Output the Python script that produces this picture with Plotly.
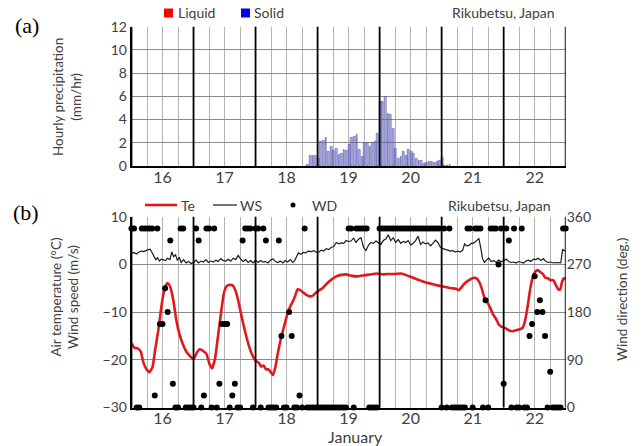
import plotly.graph_objects as go

W, H = 642, 446
FONT = "Lato"
TXT = "#404040"

# ---------------- data ----------------
day_labels = [16, 17, 18, 19, 20, 21, 22]
day_bounds = [15.5, 16.5, 17.5, 18.5, 19.5, 20.5, 21.5, 22.5]

# hourly solid precipitation (mm/hr), first value at hour 68 after 12:00 Jan 15
precip_hour0 = 68
precip_solid = [0.15, 0.85, 0.9, 0.85, 0.6, 2.1, 2.2, 2.4, 1.2, 1.7, 1.3, 1.5, 1.0, 1.1,
                1.4, 1.3, 1.8, 2.4, 2.5, 2.7, 1.4, 0.8, 2.0, 2.0, 1.7, 2.0, 2.1, 2.8,
                5.5, 5.5, 6.0, 4.5, 4.4, 3.2, 1.5, 0.6, 0.8, 1.2, 0.9, 1.4, 1.2, 1.1,
                0.6, 0.5, 0.5, 0.2, 0.3, 0.4, 0.35, 0.3, 0.4, 0.5, 0.7, 0.0, 0.0, 0.1]
precip_liquid = [0.0] * len(precip_solid)

# air temperature (deg C)
te_t = [15.50, 15.55, 15.60, 15.65, 15.69, 15.74, 15.79, 15.84, 15.88, 15.93, 15.97, 16.01,
        16.05, 16.08, 16.11, 16.14, 16.18, 16.22, 16.27, 16.33, 16.38, 16.44, 16.50, 16.55,
        16.60, 16.66, 16.71, 16.76, 16.80, 16.85, 16.90, 16.95, 16.99, 17.03, 17.08, 17.13,
        17.17, 17.21, 17.26, 17.32, 17.38, 17.44, 17.50, 17.55, 17.59, 17.63, 17.67, 17.71,
        17.75, 17.78, 17.82, 17.86, 17.91, 17.97, 18.02, 18.06, 18.10, 18.14, 18.18, 18.22,
        18.27, 18.32, 18.37, 18.42, 18.47, 18.53, 18.58, 18.65, 18.72, 18.80, 18.88, 18.96,
        19.05, 19.15, 19.25, 19.35, 19.45, 19.55, 19.65, 19.75, 19.85, 19.92, 20.00, 20.08,
        20.16, 20.24, 20.32, 20.40, 20.50, 20.58, 20.66, 20.73, 20.78, 20.82, 20.87, 20.93,
        20.98, 21.03, 21.07, 21.11, 21.15, 21.19, 21.24, 21.28, 21.33, 21.38, 21.42, 21.47,
        21.52, 21.58, 21.64, 21.70, 21.76, 21.81, 21.85, 21.89, 21.93, 21.97, 22.01, 22.05,
        22.09, 22.13, 22.17, 22.21, 22.25, 22.30, 22.34, 22.38, 22.41, 22.44, 22.47, 22.50]
te_v = [-16.5, -17.5, -17.6, -18.3, -20.5, -22.0, -22.6, -21.5, -18.0, -14.0, -10.0, -6.5,
        -4.5, -3.9, -4.3, -5.4, -8.0, -11.5, -14.5, -16.8, -18.2, -19.2, -19.9, -18.6,
        -17.8, -18.2, -18.8, -21.0, -21.8, -19.5, -14.5, -9.5, -6.0, -4.6, -4.3, -4.4,
        -5.3, -7.0, -10.0, -13.5, -16.5, -18.8, -20.2, -20.6, -21.4, -21.2, -22.0, -22.0,
        -22.7, -23.2, -21.5, -18.5, -15.5, -12.5, -10.0, -8.8, -7.8, -6.5, -5.2, -5.4,
        -5.9, -6.4, -6.7, -6.6, -6.0, -5.4, -5.0, -4.0, -3.2, -2.5, -2.2, -2.1,
        -2.4, -2.5, -2.3, -2.1, -1.9, -2.1, -2.0, -2.0, -1.9, -2.2, -2.6, -3.0,
        -3.4, -3.8, -4.0, -4.3, -4.6, -4.8, -5.0, -5.1, -5.4, -4.8, -4.0, -3.4,
        -3.0, -2.8, -3.0, -3.8, -5.2, -7.0, -8.0, -9.0, -10.5, -11.5, -12.6, -13.1,
        -13.3, -13.8, -14.0, -13.8, -13.6, -13.2, -11.5, -8.5, -5.0, -2.6, -1.5, -1.2,
        -1.6, -2.0, -2.8, -2.9, -3.3, -3.3, -4.3, -5.2, -5.3, -3.7, -2.9, -3.1]

# wind speed (m/s)
ws_t = [15.50, 15.54, 15.58, 15.62, 15.66, 15.70, 15.75, 15.80, 15.83, 15.86, 15.89, 15.92,
        15.95, 15.98, 16.01, 16.05, 16.08, 16.12, 16.15, 16.18, 16.21, 16.24, 16.27, 16.30,
        16.34, 16.38, 16.42, 16.46, 16.50, 16.54, 16.58, 16.62, 16.66, 16.70, 16.74, 16.78,
        16.82, 16.86, 16.90, 16.94, 16.98, 17.02, 17.06, 17.10, 17.14, 17.18, 17.22, 17.26,
        17.30, 17.34, 17.38, 17.42, 17.46, 17.50, 17.54, 17.58, 17.62, 17.66, 17.70, 17.74,
        17.78, 17.82, 17.86, 17.90, 17.94, 17.98, 18.02, 18.06, 18.10, 18.13, 18.16, 18.19,
        18.23, 18.27, 18.31, 18.35, 18.40, 18.44, 18.48, 18.52, 18.56, 18.60, 18.64, 18.68,
        18.72, 18.76, 18.80, 18.84, 18.88, 18.92, 18.96, 19.00, 19.04, 19.08, 19.12, 19.16,
        19.20, 19.24, 19.28, 19.32, 19.36, 19.40, 19.44, 19.48, 19.52, 19.56, 19.60, 19.64,
        19.68, 19.72, 19.76, 19.80, 19.84, 19.88, 19.92, 19.96, 20.00, 20.04, 20.08, 20.12,
        20.16, 20.20, 20.24, 20.28, 20.32, 20.36, 20.40, 20.44, 20.48, 20.52, 20.56, 20.60,
        20.64, 20.68, 20.72, 20.76, 20.80, 20.84, 20.87, 20.90, 20.94, 20.98, 21.02, 21.06,
        21.10, 21.13, 21.16, 21.19, 21.22, 21.26, 21.30, 21.34, 21.38, 21.42, 21.46, 21.50,
        21.54, 21.58, 21.62, 21.66, 21.70, 21.74, 21.78, 21.82, 21.86, 21.90, 21.94, 21.98,
        22.02, 22.06, 22.10, 22.14, 22.18, 22.22, 22.26, 22.30, 22.34, 22.38, 22.42, 22.45,
        22.48, 22.50]
ws_v = [2.3, 2.5, 2.2, 2.6, 2.8, 2.7, 3.0, 3.2, 2.5, 1.8, 1.0, 1.4,
        0.7, 1.1, 0.9, 0.8, 1.3, 1.0, 2.6, 1.6, 2.0, 0.8, 1.5, 0.4,
        1.0, 0.3, 0.6, 0.2, 0.4, 0.9, 0.3, 0.7, 0.5, 1.0, 0.4, 0.7,
        0.5, 0.9, 0.6, 1.2, 0.8, 0.7, 1.1, 0.7, 1.3, 1.0, 1.9, 1.1,
        0.6, 1.0, 0.4, 0.8, 0.3, 0.9, 0.4, 0.8, 0.5, 0.6, 0.3, 0.9,
        1.2, 0.6, 0.4, 0.7, 0.3, 0.8, 0.5, 1.0, 0.4, 0.8, 1.6, 2.4,
        2.1, 2.5, 2.4, 2.8, 2.7, 2.9, 2.5, 2.6, 3.0, 2.8, 3.3, 3.1,
        3.6, 3.7, 4.6, 4.3, 4.5, 4.4, 5.0, 4.8, 4.9, 5.5, 4.6, 5.3,
        5.6, 3.6, 2.9, 4.0, 4.6, 4.4, 4.9, 4.6, 4.2, 5.0, 5.3, 6.2,
        5.0, 5.6, 4.6, 5.2, 4.4, 4.8, 4.6, 5.0, 4.1, 4.4, 5.0, 5.9,
        4.2, 4.7, 4.3, 4.5, 3.9, 4.4, 5.1, 4.6, 3.6, 3.3, 3.2, 3.0,
        2.8, 2.9, 2.6, 2.8, 2.6, 3.0, 4.3, 3.9, 4.0, 4.4, 4.5, 5.0,
        5.4, 3.5, 1.2, 0.4, 0.9, 1.3, 0.6, 0.8, 0.4, 0.9, 0.6, 0.7,
        1.1, 0.6, 0.4, 0.5, 0.3, 0.6, 0.4, 0.3, 0.7, 0.9, 0.6, 1.1,
        1.0, 1.3, 0.8, 1.2, 0.6, 0.4, 0.5, 0.3, 0.4, 0.3, 0.3, 3.1,
        3.0, 2.8]

# hourly wind direction (deg), hour 0 = 12:00 Jan 15
wd = [337.5, 337.5, 0, 0, 337.5, 337.5, 337.5, 337.5, 337.5, 22.5, 337.5, 157.5,
      157.5, 225, 180, 315, 45, 0, 0, 337.5, 337.5, 0, 0, 0,
      0, 337.5, 315, 0, 22.5, 337.5, 337.5, 0, 337.5, 0, 45, 157.5,
      157.5, 157.5, 0, 22.5, 45, 0, 0, 315, 337.5, 337.5, 337.5, 0,
      337.5, 337.5, 0, 337.5, 315, 0, 0, 0, 0, 315, 135, 0,
      0, 180, 135, 0, 0, 22.5, 0, 337.5, 0, 0, 0, 0,
      0, 0, 0, 0, 0, 0, 0, 0, 0, 0, 0, 0,
      337.5, 337.5, 0, 337.5, 337.5, 337.5, 337.5, 337.5, 0, 0, 0, 0,
      337.5, 337.5, 337.5, 337.5, 337.5, 337.5, 337.5, 337.5, 337.5, 337.5, 337.5, 337.5,
      337.5, 337.5, 337.5, 337.5, 337.5, 337.5, 337.5, 337.5, 337.5, 337.5, 337.5, 337.5,
      0, 337.5, 0, 337.5, 0, 0, 0, 0, 0, 0, 337.5, 337.5,
      0, 337.5, 337.5, 337.5, 0, 202.5, 0, 337.5, 337.5, 337.5, 270, 337.5,
      45, 337.5, 315, 0, 337.5, 0, 0, 337.5, 0, 0, 135, 157.5,
      247.5, 180, 202.5, 180, 135, 0, 67.5, 0, 0, 0, 0, 337.5,
      337.5]

precip_t = [15.5 + (precip_hour0 + i) / 24 for i in range(len(precip_solid))]
wd_t = [15.5 + i / 24 for i in range(len(wd))]


def px(x):
    return x / W


def py(y):
    return 1 - y / H


fig = go.Figure()

fig.add_trace(go.Bar(x=precip_t, y=precip_liquid, width=0.7 / 24, xaxis="x", yaxis="y",
                     marker=dict(color="#ff0000"), showlegend=False, hoverinfo="skip"))
fig.add_trace(go.Bar(x=precip_t, y=precip_solid, width=0.7 / 24, xaxis="x", yaxis="y",
                     marker=dict(color="rgba(120,120,215,0.55)",
                                 line=dict(color="rgba(70,70,160,0.9)", width=0.6)),
                     showlegend=False))

fig.add_trace(go.Scatter(x=ws_t, y=ws_v, mode="lines", xaxis="x2", yaxis="y2",
                         line=dict(color="#1a1a1a", width=1.2), showlegend=False))
fig.add_trace(go.Scatter(x=te_t, y=te_v, mode="lines", xaxis="x2", yaxis="y2",
                         line=dict(color="#e0191e", width=2.6, shape="spline", smoothing=0.4),
                         showlegend=False))
fig.add_trace(go.Scatter(x=wd_t, y=wd, mode="markers", xaxis="x2", yaxis="y3",
                         marker=dict(color="black", size=6), showlegend=False, cliponaxis=False))

xdom = [px(131.5), px(565.7)]
xcommon = dict(range=[15.5, 22.5], domain=xdom, tickvals=day_labels, automargin=False,
               ticktext=[str(d) for d in day_labels], showgrid=True, gridcolor="#b4b4b4",
               gridwidth=1, zeroline=False, showline=True, linecolor="black", linewidth=1.5,
               ticks="", tickfont=dict(family=FONT, size=16, color=TXT),
               minor=dict(dtick=0.25, tick0=15.5, showgrid=True, gridcolor="#b4b4b4",
                          gridwidth=1, ticks=""))

fig.update_layout(
    width=W, height=H, margin=dict(l=0, r=0, t=0, b=0, autoexpand=False),
    paper_bgcolor="white", plot_bgcolor="white", bargap=0,
    font=dict(family=FONT, color=TXT),
    xaxis=dict(**xcommon, anchor="y"),
    yaxis=dict(range=[0, 12], dtick=2, domain=[py(166), py(26.7)], showgrid=True,
               gridcolor="#8c8c8c", gridwidth=1, zeroline=False, showline=True,
               linecolor="black", linewidth=1.5, ticks="", anchor="x", automargin=False,
               tickfont=dict(family=FONT, size=14, color=TXT)),
    xaxis2=dict(**xcommon, anchor="y2"),
    yaxis2=dict(range=[-30, 10], dtick=10, domain=[py(407.5), py(216.7)], showgrid=True,
                gridcolor="#8c8c8c", gridwidth=1, zeroline=False, showline=True,
                linecolor="black", linewidth=1.5, ticks="", anchor="x2", automargin=False,
                tickfont=dict(family=FONT, size=14, color=TXT)),
    yaxis3=dict(range=[0, 360], tickvals=[0, 90, 180, 270, 360], overlaying="y2",
                side="right", anchor="x2", showgrid=False, zeroline=False, showline=False,
                ticks="", automargin=False, tickfont=dict(family=FONT, size=14, color=TXT)),
)

# pull the day labels a little closer to the axis
try:
    fig.update_xaxes(ticklabelstandoff=-4)
except Exception:
    fig.update_xaxes(tickfont=dict(size=15))

shapes = []
for ax_x, ax_y in (("x", "y"), ("x2", "y2")):
    for b in day_bounds:
        shapes.append(dict(type="line", xref=ax_x, yref=ax_y + " domain", x0=b, x1=b,
                           y0=0, y1=1, line=dict(color="black", width=1.8), layer="above"))

# legend keys (paper coords)
shapes.append(dict(type="rect", xref="paper", yref="paper", x0=px(164), x1=px(173),
                   y0=py(17.5), y1=py(8.5), fillcolor="#ff0000", line=dict(width=0)))
shapes.append(dict(type="rect", xref="paper", yref="paper", x0=px(241), x1=px(250),
                   y0=py(17.5), y1=py(8.5), fillcolor="#0000ff", line=dict(width=0)))
shapes.append(dict(type="line", xref="paper", yref="paper", x0=px(145), x1=px(177),
                   y0=py(205), y1=py(205), line=dict(color="#e0191e", width=2.6)))
shapes.append(dict(type="line", xref="paper", yref="paper", x0=px(213), x1=px(237),
                   y0=py(205), y1=py(205), line=dict(color="#1a1a1a", width=1.2)))
shapes.append(dict(type="circle", xref="paper", yref="paper", x0=px(290.5), x1=px(295.5),
                   y0=py(207.5), y1=py(202.5), fillcolor="black", line=dict(width=0)))
fig.update_layout(shapes=shapes)


def ann(text, x, y, size, xanchor="center", angle=0, family=FONT, color=TXT):
    return dict(text=text, x=px(x), y=py(y), xref="paper", yref="paper", showarrow=False,
                xanchor=xanchor, yanchor="middle", textangle=angle,
                font=dict(family=family, size=size, color=color))


annotations = [
    ann("(a)", 27, 26, 22, family="Liberation Serif", color="black"),
    ann("(b)", 26, 213, 22, family="Liberation Serif", color="black"),
    ann("Hourly precipitation<br>(mm/hr)", 67, 97, 13.5, angle=-90),
    ann("Air temperature (°C)<br>Wind speed (m/s)", 64.5, 297, 13.5, angle=-90),
    ann("Wind direction (deg.)", 622, 300, 13.5, angle=-90),
    ann("January", 355, 436.5, 16),
    ann("Rikubetsu, Japan", 557, 13, 14, xanchor="right"),
    ann("Rikubetsu, Japan", 553, 205, 14, xanchor="right"),
    ann("Liquid", 175.5, 13, 14, xanchor="left"),
    ann("Solid", 252, 13, 14, xanchor="left"),
    ann("Te", 179, 205, 14, xanchor="left"),
    ann("WS", 238, 205, 14, xanchor="left"),
    ann("WD", 310, 205, 14, xanchor="left"),
]
fig.update_layout(annotations=annotations)

fig.write_html("out.html", config={"displayModeBar": False},
               post_script="document.body.style.margin='0';document.body.style.overflow='hidden';")
